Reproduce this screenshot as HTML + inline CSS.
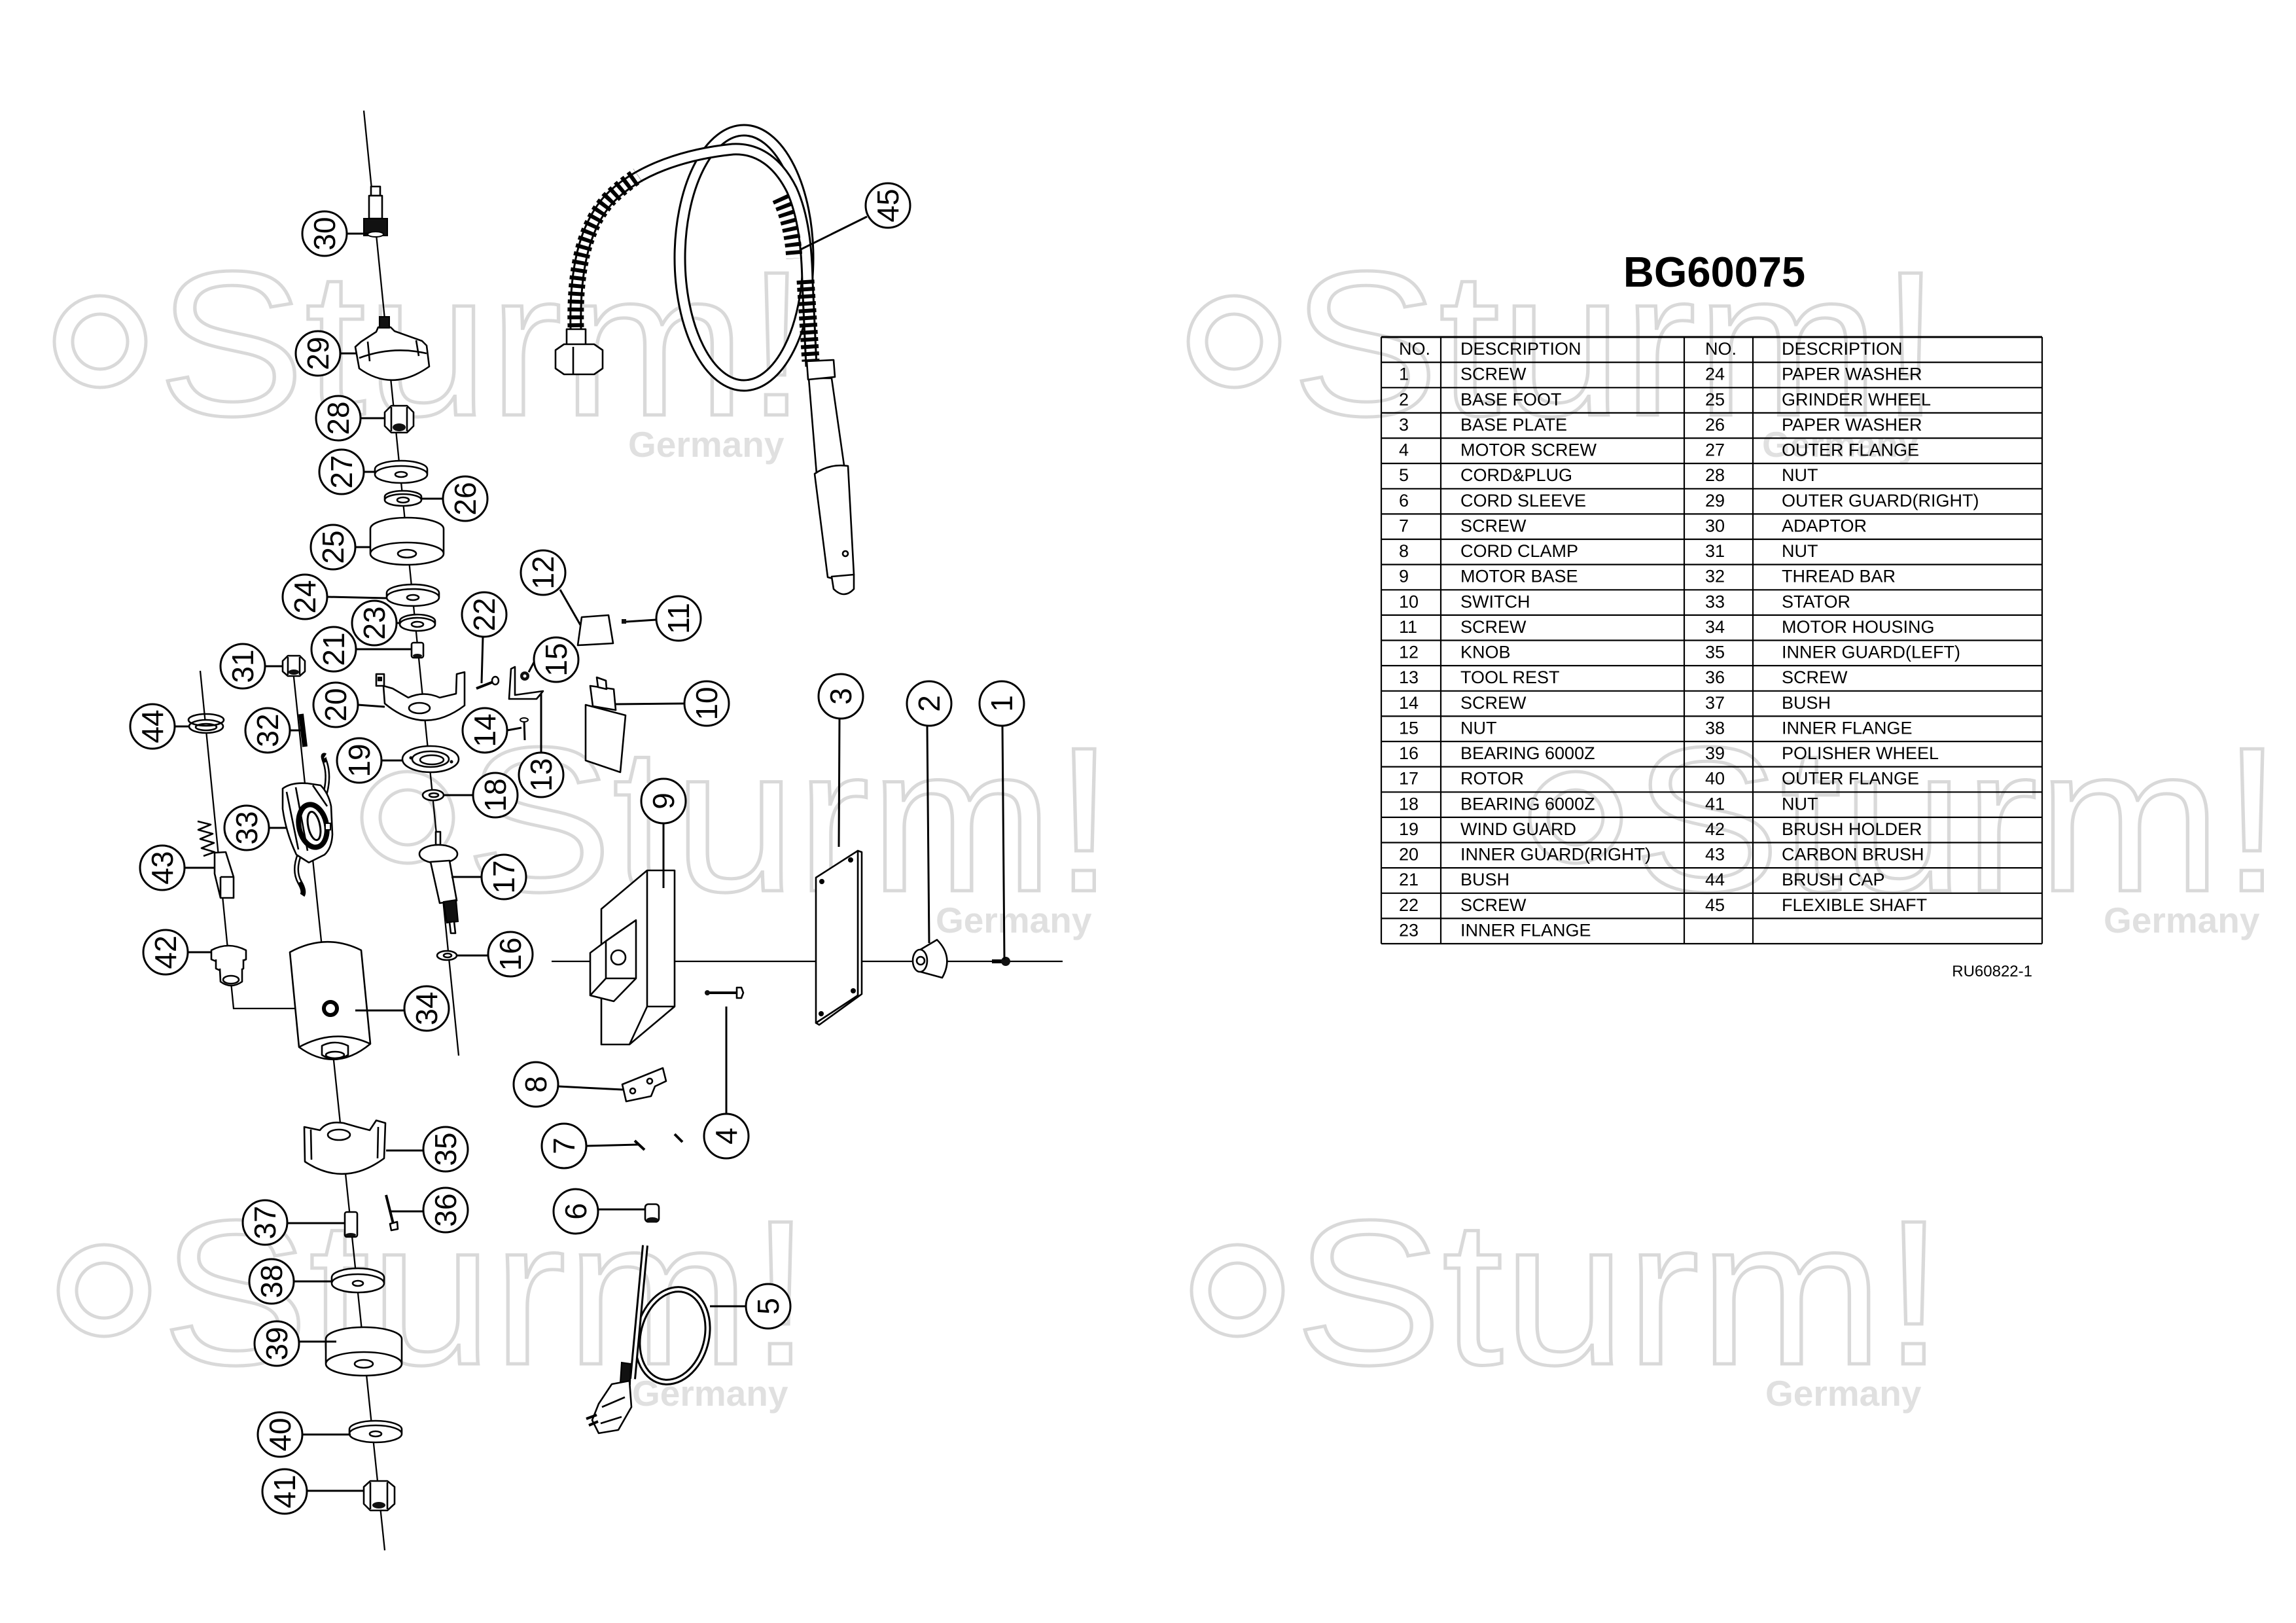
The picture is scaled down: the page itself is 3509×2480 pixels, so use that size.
<!DOCTYPE html>
<html><head><meta charset="utf-8"><style>
html,body{margin:0;padding:0;background:#fff;}
body{width:3509px;height:2480px;overflow:hidden;position:relative;}
svg{position:absolute;left:0;top:0;}
.wm{fill:none;stroke:#d9d9d9;stroke-width:5;}
.wt{font-family:"Liberation Sans",Arial,sans-serif;font-size:315px;fill:none;stroke:#d9d9d9;stroke-width:5;}
.wg{font-family:"Liberation Sans",Arial,sans-serif;font-size:55px;font-weight:bold;fill:#e0e0e0;}
.p{fill:#fff;stroke:#000;stroke-width:2.6;stroke-linejoin:round;}
.n{fill:none;stroke:#000;stroke-width:2.6;stroke-linejoin:round;}
.d{fill:#111;stroke:#000;stroke-width:2;}
.l{fill:none;stroke:#000;stroke-width:3;}
.ax{fill:none;stroke:#000;stroke-width:2.3;}
.c circle{fill:#fff;stroke:#000;stroke-width:3;}
.c text{font-family:"Liberation Sans",Arial,sans-serif;font-size:46px;text-anchor:middle;fill:#000;}
.t{font-family:"Liberation Sans",Arial,sans-serif;font-size:27px;fill:#000;}
.tl{stroke:#000;stroke-width:2.2;}
</style></head><body>
<svg width="3509" height="2480" viewBox="0 0 3509 2480" xmlns="http://www.w3.org/2000/svg">

<!-- watermarks -->
<g transform="translate(0,0)">
<circle class="wm" cx="153" cy="522" r="70"/><circle class="wm" cx="153" cy="522" r="42"/>
<text class="wt" transform="translate(241,634) scale(1.07,1)">Sturm!</text>
<text class="wg" x="960" y="698">Germany</text></g>
<g transform="translate(1733,0)">
<circle class="wm" cx="153" cy="522" r="70"/><circle class="wm" cx="153" cy="522" r="42"/>
<text class="wt" transform="translate(241,634) scale(1.07,1)">Sturm!</text>
<text class="wg" x="960" y="698">Germany</text></g>
<g transform="translate(470,727)">
<circle class="wm" cx="153" cy="522" r="70"/><circle class="wm" cx="153" cy="522" r="42"/>
<text class="wt" transform="translate(241,634) scale(1.07,1)">Sturm!</text>
<text class="wg" x="960" y="698">Germany</text></g>
<g transform="translate(2255,727)">
<circle class="wm" cx="153" cy="522" r="70"/><circle class="wm" cx="153" cy="522" r="42"/>
<text class="wt" transform="translate(241,634) scale(1.07,1)">Sturm!</text>
<text class="wg" x="960" y="698">Germany</text></g>
<g transform="translate(6,1450)">
<circle class="wm" cx="153" cy="522" r="70"/><circle class="wm" cx="153" cy="522" r="42"/>
<text class="wt" transform="translate(241,634) scale(1.07,1)">Sturm!</text>
<text class="wg" x="960" y="698">Germany</text></g>
<g transform="translate(1738,1450)">
<circle class="wm" cx="153" cy="522" r="70"/><circle class="wm" cx="153" cy="522" r="42"/>
<text class="wt" transform="translate(241,634) scale(1.07,1)">Sturm!</text>
<text class="wg" x="960" y="698">Germany</text></g>

<!-- ===== flexible shaft 45 ===== -->
<ellipse cx="1137" cy="394" rx="98" ry="195" fill="none" stroke="#000" stroke-width="19"/>
<ellipse cx="1137" cy="394" rx="98" ry="195" fill="none" stroke="#fff" stroke-width="13"/>
<path d="M880 503 C878 420 890 350 930 305 C975 258 1050 235 1120 228 C1160 226 1190 250 1210 290 C1228 330 1233 380 1234 430 L1240 560" fill="none" stroke="#000" stroke-width="19"/>
<path d="M880 503 C878 420 890 350 930 305 C975 258 1050 235 1120 228 C1160 226 1190 250 1210 290 C1228 330 1233 380 1234 430 L1240 560" fill="none" stroke="#fff" stroke-width="13"/>
<path d="M880 500 C878 420 890 350 930 305 C948 287 962 277 975 268" fill="none" stroke="#000" stroke-width="25" stroke-dasharray="6 6"/>
<path d="M1192 302 C1205 330 1212 360 1214 395" fill="none" stroke="#000" stroke-width="25" stroke-dasharray="6 6"/>
<path d="M1231 428 L1239 552" fill="none" stroke="#000" stroke-width="27" stroke-dasharray="6 5"/>
<path class="p" d="M1236 578 L1271 578 L1291 718 L1248 724 Z"/>
<path class="p" d="M1233 552 L1274 550 L1276 576 L1235 580 Z"/>
<path class="p" d="M1245 724 Q1268 708 1296 712 L1305 878 Q1285 888 1265 882 Z"/>
<circle class="n" cx="1292" cy="846" r="4"/>
<path class="p" d="M1271 881 L1305 878 L1305 900 Q1290 916 1274 900 Z"/>
<rect class="p" x="866" y="503" width="29" height="24"/>
<path class="p" d="M849 535 L862 526 L908 526 L921 535 L921 563 L908 572 L862 572 L849 563 Z"/>
<path class="n" d="M876 530 L876 572"/>
<path class="l" d="M1222 382 L1325 331"/>

<!-- ===== axis lines ===== -->
<path class="ax" d="M556 169 L701 1613"/>
<path class="ax" d="M448 1025 L588 2369"/>
<path class="ax" d="M306 1025 L357 1541 L494 1541"/>
<path class="ax" d="M843 1469 L1624 1469"/>

<!-- ===== parts on upper axis ===== -->
<rect class="p" x="567" y="285" width="14" height="14"/>
<rect class="p" x="564" y="299" width="20" height="35"/>
<rect class="d" x="556" y="334" width="36" height="26"/>
<ellipse cx="574" cy="358" rx="12" ry="4" fill="#fff" stroke="#000" stroke-width="2"/>
<path class="p" d="M578 500 L597 500 L603 506 L645 521 L652 528 L656 560 Q600 600 549 563 L543 530 L552 522 L575 507 Z"/>
<rect class="d" x="580" y="484" width="15" height="17"/>
<path class="n" d="M549 547 Q600 528 652 540 M562 522 L565 552 M636 520 L640 544"/>
<path class="p" d="M588 630 L598 620 L622 620 L632 630 L632 651 L622 661 L598 661 L588 651 Z"/>
<path class="n" d="M598 622 L598 659 M622 622 L622 659"/>
<ellipse cx="610" cy="653" rx="10" ry="6" fill="#111"/>
<path class="p" d="M573 717 A40 13 0 0 1 653 717 L653 725 A40 13 0 0 1 573 725 Z M573 725 A40 13 0 0 1 653 725"/>
<ellipse class="n" cx="613" cy="725" rx="9" ry="4"/>
<path class="p" d="M588 759 A28 9 0 0 1 644 759 L644 764 A28 9 0 0 1 588 764 Z M588 764 A28 9 0 0 1 644 764"/>
<ellipse class="n" cx="616" cy="764" rx="9" ry="4" stroke-width="3.5"/>
<path class="p" d="M566 808 A56 17 0 0 1 678 808 L678 846 A56 17 0 0 1 566 846 Z M566 846 A56 17 0 0 1 678 846"/>
<ellipse class="n" cx="622" cy="846" rx="14" ry="6"/>
<path class="p" d="M591 906 A40 13 0 0 1 671 906 L671 913 A40 13 0 0 1 591 913 Z M591 913 A40 13 0 0 1 671 913"/>
<ellipse class="n" cx="631" cy="913" rx="9" ry="4"/>
<path class="p" d="M611 949 A27 10 0 0 1 665 949 L665 954 A27 10 0 0 1 611 954 Z M611 954 A27 10 0 0 1 665 954"/>
<ellipse class="n" cx="638" cy="954" rx="9" ry="4" stroke-width="3.5"/>
<rect class="p" x="629" y="982" width="18" height="23" rx="3"/>
<ellipse cx="638" cy="1002" rx="7" ry="3" fill="#111"/>
<path class="p" d="M586 1048 L588 1075 Q648 1125 710 1078 L710 1027 L698 1030 L697 1060 L672 1066 Q648 1055 624 1066 L600 1052 Z"/>
<ellipse class="n" cx="641" cy="1082" rx="16" ry="8"/>
<rect class="p" x="575" y="1030" width="12" height="18"/>
<rect class="d" x="578" y="1035" width="5" height="5"/>
<ellipse class="p" cx="658" cy="1160" rx="43" ry="20"/>
<ellipse class="n" cx="658" cy="1160" rx="28" ry="12"/>
<ellipse class="n" cx="660" cy="1161" rx="18" ry="7" stroke-width="4.5"/>
<circle cx="628" cy="1158" r="2.5" fill="#000"/><circle cx="690" cy="1164" r="2.5" fill="#000"/>
<ellipse class="p" cx="662" cy="1215" rx="16" ry="8"/>
<ellipse class="n" cx="663" cy="1215" rx="7" ry="3" stroke-width="3.5"/>
<rect class="p" x="666" y="1271" width="7" height="20"/>
<ellipse class="p" cx="670" cy="1305" rx="29" ry="14"/>
<path class="p" d="M658 1317 L687 1315 L698 1376 L672 1380 Z"/>
<path class="d" d="M678 1378 L697 1375 L700 1408 L683 1410 Z"/>
<path class="p" d="M687 1409 L694 1408 L696 1426 L689 1426 Z"/>
<ellipse class="p" cx="683" cy="1460" rx="15" ry="7"/>
<ellipse class="n" cx="684" cy="1460" rx="6" ry="3" stroke-width="3.5"/>

<!-- ===== parts on motor axis ===== -->
<path class="p" d="M432 1010 L440 1002 L458 1002 L466 1010 L466 1026 L458 1033 L440 1033 L432 1026 Z"/>
<path class="n" d="M440 1004 L440 1031 M458 1004 L458 1031"/>
<ellipse cx="449" cy="1027" rx="8" ry="4" fill="#111"/>
<path d="M460 1091 L466 1141" stroke="#000" stroke-width="8"/>
<!-- 33 stator -->
<path d="M494 1222 Q505 1190 497 1165 Q492 1152 497 1155" fill="none" stroke="#000" stroke-width="8"/>
<path d="M494 1222 Q505 1190 497 1165" fill="none" stroke="#fff" stroke-width="3"/>
<path d="M458 1305 Q448 1330 458 1348 Q466 1362 462 1368" fill="none" stroke="#000" stroke-width="8"/>
<path d="M458 1305 Q448 1330 458 1348" fill="none" stroke="#fff" stroke-width="3"/>
<path class="p" d="M432 1205 Q445 1195 470 1197 L490 1200 Q502 1212 506 1232 L508 1275 Q507 1296 496 1306 L472 1318 L453 1306 Q437 1272 432 1236 Z"/>
<path class="n" d="M438 1210 L456 1298 M452 1203 L470 1300 M478 1200 L500 1232" stroke-width="3"/>
<ellipse cx="478" cy="1262" rx="21" ry="33" transform="rotate(-12 478 1262)" fill="none" stroke="#000" stroke-width="8"/>
<ellipse cx="480" cy="1262" rx="9" ry="22" transform="rotate(-12 480 1262)" fill="none" stroke="#000" stroke-width="3"/>
<rect x="497" y="1258" width="8" height="10" fill="#fff" stroke="#000" stroke-width="2"/>
<!-- 34 motor housing -->
<path class="p" d="M443 1455 Q498 1425 552 1452 L566 1595 Q512 1640 457 1600 Z"/>
<path class="n" d="M457 1600 Q512 1570 566 1595"/>
<path class="p" d="M492 1598 L492 1612 Q512 1625 532 1612 L532 1598 Q512 1588 492 1598 Z"/>
<ellipse class="n" cx="512" cy="1612" rx="14" ry="5" stroke-width="3"/>
<circle cx="505" cy="1541" r="10" fill="#fff" stroke="#000" stroke-width="6"/>
<!-- 35 -->
<path class="p" d="M465 1722 L489 1727 Q500 1712 525 1716 Q545 1722 565 1727 L575 1712 L589 1716 L587 1770 Q526 1815 466 1775 Z"/>
<ellipse class="n" cx="518" cy="1734" rx="17" ry="8"/>
<path class="n" d="M475 1726 L476 1772 M578 1722 L577 1770"/>
<!-- 36 -->
<path d="M590 1826 L601 1870" stroke="#000" stroke-width="4"/>
<path class="p" d="M596 1870 L607 1867 L608 1878 L598 1880 Z"/>
<!-- 37 -->
<rect class="p" x="527" y="1852" width="19" height="38" rx="3"/>
<ellipse cx="536" cy="1887" rx="8" ry="3" fill="#111"/>
<!-- 38 -->
<path class="p" d="M507 1952 A40 14 0 0 1 587 1952 L587 1961 A40 14 0 0 1 507 1961 Z M507 1961 A40 14 0 0 1 587 1961"/>
<ellipse class="n" cx="547" cy="1961" rx="8" ry="4"/>
<!-- 39 -->
<path class="p" d="M498 2046 A58 18 0 0 1 614 2046 L614 2084 A58 18 0 0 1 498 2084 Z M498 2084 A58 18 0 0 1 614 2084"/>
<ellipse class="n" cx="556" cy="2084" rx="14" ry="6"/>
<!-- 40 -->
<path class="p" d="M534 2184 A40 13 0 0 1 614 2184 L614 2191 A40 13 0 0 1 534 2191 Z M534 2191 A40 13 0 0 1 614 2191"/>
<ellipse class="n" cx="574" cy="2191" rx="9" ry="4"/>
<!-- 41 -->
<path class="p" d="M556 2272 L566 2263 L592 2263 L603 2272 L603 2298 L592 2308 L566 2308 L556 2298 Z"/>
<path class="n" d="M566 2265 L566 2306 M592 2265 L592 2306"/>
<ellipse cx="579" cy="2300" rx="10" ry="5" fill="#111"/>

<!-- ===== brush side ===== -->
<ellipse class="p" cx="315" cy="1110" rx="26" ry="10" stroke-width="4"/>
<ellipse class="n" cx="315" cy="1100" rx="27" ry="9" stroke-width="5"/>
<ellipse class="n" cx="315" cy="1111" rx="16" ry="5" stroke-width="4"/>
<polyline class="n" stroke-width="5" points="302,1255 322,1260 303,1268 325,1274 306,1282 327,1288 308,1296 328,1302 311,1308"/>
<path class="p" d="M328 1303 L345 1302 L357 1340 L357 1372 L337 1372 L328 1335 Z"/>
<path class="n" d="M337 1340 L357 1340 M337 1340 L337 1372"/>
<path class="p" d="M323 1452 Q349 1438 376 1452 L376 1466 Q349 1478 323 1466 Z"/>
<path class="p" d="M330 1466 L330 1480 Q353 1492 372 1480 L372 1466"/>
<path class="p" d="M336 1480 L337 1500 Q353 1512 370 1500 L370 1480"/>
<ellipse class="n" cx="353" cy="1497" rx="12" ry="6" stroke-width="4"/>

<!-- ===== right side small parts ===== -->
<path d="M728 1052 L756 1041" stroke="#000" stroke-width="4"/>
<ellipse cx="757" cy="1040" rx="5" ry="6" fill="#fff" stroke="#000" stroke-width="2.5"/>
<path class="p" d="M889 943 L930 940 L937 983 L883 986 Z"/>
<rect x="950" y="946" width="7" height="7" fill="#111"/>
<circle cx="802" cy="1033" r="7" fill="#111"/><circle cx="802" cy="1033" r="2.5" fill="#fff"/>
<path class="p" d="M781 1022 L787 1019 L787 1062 L830 1056 L820 1068 L778 1068 Z"/>
<path d="M801 1100 L802 1131" stroke="#000" stroke-width="3"/>
<ellipse cx="801" cy="1100" rx="6" ry="3" fill="#fff" stroke="#000" stroke-width="2"/>
<path class="p" d="M895 1077 L956 1093 L948 1180 L895 1162 Z"/>
<path class="p" d="M902 1048 L938 1053 L941 1085 L906 1079 Z"/>
<path class="p" d="M912 1035 L926 1040 L927 1053 L914 1050 Z"/>
<path class="p" d="M989 1330 L919 1389 L919 1596 L962 1596 L1031 1538 L1031 1330 Z"/>
<path class="n" d="M989 1330 L989 1538 L1031 1538 M989 1538 L962 1596"/>
<path class="p" d="M926 1438 L972 1406 L972 1495 L938 1530 L902 1521 L902 1456 Z"/>
<path class="n" d="M926 1438 L926 1495 L972 1495 M926 1495 L902 1521"/>
<circle class="n" cx="945" cy="1463" r="11"/>
<path class="p" d="M1311 1300 L1317 1302 L1317 1519 L1252 1566 L1247 1563 L1311 1521 Z"/>
<path class="p" d="M1247 1341 L1311 1300 L1311 1521 L1247 1563 Z"/>
<circle cx="1256" cy="1347" r="4" fill="#000"/><circle cx="1300" cy="1314" r="4" fill="#000"/>
<circle cx="1304" cy="1514" r="4" fill="#000"/><circle cx="1255" cy="1549" r="4" fill="#000"/>
<path class="p" d="M1405 1452 L1432 1436 Q1458 1462 1440 1494 L1407 1485 Z"/>
<ellipse class="p" cx="1406" cy="1468" rx="11" ry="17"/>
<circle class="n" cx="1407" cy="1468" r="6"/>
<path d="M1516 1469 L1535 1469" stroke="#000" stroke-width="6"/>
<circle cx="1537" cy="1469" r="7" fill="#111"/>
<path d="M1081 1517 L1127 1517" stroke="#000" stroke-width="4"/>
<circle cx="1081" cy="1517" r="4" fill="#111"/>
<path class="p" d="M1126 1509 L1133 1509 L1136 1517 L1133 1525 L1126 1525 Z"/>
<path class="p" d="M951 1657 L1013 1632 L1018 1652 L1001 1660 L995 1675 L957 1683 Z"/>
<circle class="n" cx="967" cy="1667" r="4"/><circle class="n" cx="993" cy="1652" r="4"/>
<path d="M970 1743 L985 1757" stroke="#000" stroke-width="4"/>
<path d="M1031 1733 L1043 1745" stroke="#000" stroke-width="4"/>
<rect class="p" x="986" y="1840" width="21" height="27" rx="5"/>
<ellipse cx="997" cy="1864" rx="9" ry="4" fill="#111"/>
<ellipse cx="1028" cy="2041" rx="52" ry="72" transform="rotate(15 1028 2041)" fill="none" stroke="#000" stroke-width="10"/>
<ellipse cx="1028" cy="2041" rx="52" ry="72" transform="rotate(15 1028 2041)" fill="none" stroke="#fff" stroke-width="4"/>
<path d="M986 1903 L967 2107" stroke="#000" stroke-width="10"/>
<path d="M986 1903 L967 2107" stroke="#fff" stroke-width="4"/>
<path class="d" d="M950 2082 L964 2084 L963 2115 L948 2113 Z"/>
<path class="p" d="M935 2115 L962 2110 L965 2150 L945 2185 L915 2190 L905 2170 L915 2145 Z"/>
<path class="n" d="M920 2150 L955 2135 M918 2175 L950 2165" stroke-width="3.5"/>
<path d="M896 2168 L912 2162 M900 2178 L914 2172" stroke="#000" stroke-width="4"/>

<!-- ===== leaders ===== -->
<path class="l" d="M530 357 L563 357 M520 540 L546 540 M551 639 L588 639 M556 721 L573 721 M677 762 L644 762 M543 836 L566 836 M500 912 L591 914 M606 952 L611 952 M544 992 L629 992 M405 1018 L432 1018 M738 973 L736 1044 M856 901 L887 955 M1003 947 L957 950 M816 1012 L808 1027 M547 1077 L588 1080 M267 1110 L290 1110 M443 1116 L461 1116 M775 1116 L797 1112 M827 1150 L827 1060 M583 1162 L615 1162 M723 1215 L678 1215 M1014 1258 L1014 1357 M411 1265 L437 1265 M282 1326 L328 1326 M736 1340 L690 1340 M287 1455 L323 1455 M746 1460 L698 1460 M618 1544 L543 1544 M853 1660 L952 1665 M647 1758 L590 1758 M896 1751 L975 1749 M1110 1702 L1110 1538 M647 1851 L597 1851 M914 1848 L986 1848 M440 1869 L527 1869 M449 1958 L507 1958 M457 2050 L514 2050 M462 2192 L536 2192 M469 2278 L556 2278 M1085 1996 L1140 1996 M1046 1075 L941 1076 M1283 1098 L1282 1294 M1417 1109 L1420 1441 M1532 1109 L1535 1466"/>

<!-- ===== callout circles ===== -->
<g class="c">
<g transform="translate(496,357)"><circle r="34"/><text transform="rotate(-90)" y="16">30</text></g>
<g transform="translate(486,540)"><circle r="34"/><text transform="rotate(-90)" y="16">29</text></g>
<g transform="translate(517,639)"><circle r="34"/><text transform="rotate(-90)" y="16">28</text></g>
<g transform="translate(522,721)"><circle r="34"/><text transform="rotate(-90)" y="16">27</text></g>
<g transform="translate(711,762)"><circle r="34"/><text transform="rotate(-90)" y="16">26</text></g>
<g transform="translate(509,836)"><circle r="34"/><text transform="rotate(-90)" y="16">25</text></g>
<g transform="translate(466,912)"><circle r="34"/><text transform="rotate(-90)" y="16">24</text></g>
<g transform="translate(572,952)"><circle r="34"/><text transform="rotate(-90)" y="16">23</text></g>
<g transform="translate(510,992)"><circle r="34"/><text transform="rotate(-90)" y="16">21</text></g>
<g transform="translate(740,939)"><circle r="34"/><text transform="rotate(-90)" y="16">22</text></g>
<g transform="translate(830,875)"><circle r="34"/><text transform="rotate(-90)" y="16">12</text></g>
<g transform="translate(1037,945)"><circle r="34"/><text transform="rotate(-90)" y="16">11</text></g>
<g transform="translate(850,1008)"><circle r="34"/><text transform="rotate(-90)" y="16">15</text></g>
<g transform="translate(371,1018)"><circle r="34"/><text transform="rotate(-90)" y="16">31</text></g>
<g transform="translate(513,1077)"><circle r="34"/><text transform="rotate(-90)" y="16">20</text></g>
<g transform="translate(233,1110)"><circle r="34"/><text transform="rotate(-90)" y="16">44</text></g>
<g transform="translate(409,1116)"><circle r="34"/><text transform="rotate(-90)" y="16">32</text></g>
<g transform="translate(741,1116)"><circle r="34"/><text transform="rotate(-90)" y="16">14</text></g>
<g transform="translate(827,1184)"><circle r="34"/><text transform="rotate(-90)" y="16">13</text></g>
<g transform="translate(549,1162)"><circle r="34"/><text transform="rotate(-90)" y="16">19</text></g>
<g transform="translate(757,1215)"><circle r="34"/><text transform="rotate(-90)" y="16">18</text></g>
<g transform="translate(1014,1224)"><circle r="34"/><text transform="rotate(-90)" y="16">9</text></g>
<g transform="translate(377,1265)"><circle r="34"/><text transform="rotate(-90)" y="16">33</text></g>
<g transform="translate(248,1326)"><circle r="34"/><text transform="rotate(-90)" y="16">43</text></g>
<g transform="translate(770,1340)"><circle r="34"/><text transform="rotate(-90)" y="16">17</text></g>
<g transform="translate(253,1455)"><circle r="34"/><text transform="rotate(-90)" y="16">42</text></g>
<g transform="translate(780,1458)"><circle r="34"/><text transform="rotate(-90)" y="16">16</text></g>
<g transform="translate(652,1541)"><circle r="34"/><text transform="rotate(-90)" y="16">34</text></g>
<g transform="translate(819,1657)"><circle r="34"/><text transform="rotate(-90)" y="16">8</text></g>
<g transform="translate(681,1756)"><circle r="34"/><text transform="rotate(-90)" y="16">35</text></g>
<g transform="translate(862,1751)"><circle r="34"/><text transform="rotate(-90)" y="16">7</text></g>
<g transform="translate(1110,1736)"><circle r="34"/><text transform="rotate(-90)" y="16">4</text></g>
<g transform="translate(681,1849)"><circle r="34"/><text transform="rotate(-90)" y="16">36</text></g>
<g transform="translate(880,1851)"><circle r="34"/><text transform="rotate(-90)" y="16">6</text></g>
<g transform="translate(405,1868)"><circle r="34"/><text transform="rotate(-90)" y="16">37</text></g>
<g transform="translate(415,1958)"><circle r="34"/><text transform="rotate(-90)" y="16">38</text></g>
<g transform="translate(423,2053)"><circle r="34"/><text transform="rotate(-90)" y="16">39</text></g>
<g transform="translate(428,2192)"><circle r="34"/><text transform="rotate(-90)" y="16">40</text></g>
<g transform="translate(435,2279)"><circle r="34"/><text transform="rotate(-90)" y="16">41</text></g>
<g transform="translate(1174,1996)"><circle r="34"/><text transform="rotate(-90)" y="16">5</text></g>
<g transform="translate(1080,1075)"><circle r="34"/><text transform="rotate(-90)" y="16">10</text></g>
<g transform="translate(1285,1064)"><circle r="34"/><text transform="rotate(-90)" y="16">3</text></g>
<g transform="translate(1420,1075)"><circle r="34"/><text transform="rotate(-90)" y="16">2</text></g>
<g transform="translate(1531,1075)"><circle r="34"/><text transform="rotate(-90)" y="16">1</text></g>
<g transform="translate(1357,314)"><circle r="34"/><text transform="rotate(-90)" y="16">45</text></g>
</g>

<!-- ===== title & table ===== -->
<text x="2620" y="438" font-family="'Liberation Sans',Arial,sans-serif" font-size="65" font-weight="bold" text-anchor="middle">BG60075</text>

<g class="tl">
<line x1="2111" y1="515" x2="3121" y2="515" stroke-width="3"/>
<line x1="2111" y1="553.6" x2="3121" y2="553.6"/>
<line x1="2111" y1="592.3" x2="3121" y2="592.3"/>
<line x1="2111" y1="630.9" x2="3121" y2="630.9"/>
<line x1="2111" y1="669.5" x2="3121" y2="669.5"/>
<line x1="2111" y1="708.1" x2="3121" y2="708.1"/>
<line x1="2111" y1="746.8" x2="3121" y2="746.8"/>
<line x1="2111" y1="785.4" x2="3121" y2="785.4"/>
<line x1="2111" y1="824.0" x2="3121" y2="824.0"/>
<line x1="2111" y1="862.6" x2="3121" y2="862.6"/>
<line x1="2111" y1="901.3" x2="3121" y2="901.3"/>
<line x1="2111" y1="939.9" x2="3121" y2="939.9"/>
<line x1="2111" y1="978.5" x2="3121" y2="978.5"/>
<line x1="2111" y1="1017.1" x2="3121" y2="1017.1"/>
<line x1="2111" y1="1055.8" x2="3121" y2="1055.8"/>
<line x1="2111" y1="1094.4" x2="3121" y2="1094.4"/>
<line x1="2111" y1="1133.0" x2="3121" y2="1133.0"/>
<line x1="2111" y1="1171.6" x2="3121" y2="1171.6"/>
<line x1="2111" y1="1210.3" x2="3121" y2="1210.3"/>
<line x1="2111" y1="1248.9" x2="3121" y2="1248.9"/>
<line x1="2111" y1="1287.5" x2="3121" y2="1287.5"/>
<line x1="2111" y1="1326.1" x2="3121" y2="1326.1"/>
<line x1="2111" y1="1364.8" x2="3121" y2="1364.8"/>
<line x1="2111" y1="1403.4" x2="3121" y2="1403.4"/>
<line x1="2111" y1="1442" x2="3121" y2="1442"/>
<line x1="2111" y1="515" x2="2111" y2="1442"/>
<line x1="2202" y1="515" x2="2202" y2="1442"/>
<line x1="2574" y1="515" x2="2574" y2="1442"/>
<line x1="2679" y1="515" x2="2679" y2="1442"/>
<line x1="3121" y1="515" x2="3121" y2="1442"/>
</g>

<g class="t">
<text x="2138" y="542">NO.</text><text x="2232" y="542">DESCRIPTION</text><text x="2606" y="542">NO.</text><text x="2723" y="542">DESCRIPTION</text>
<text x="2138" y="580.6">1</text><text x="2232" y="580.6">SCREW</text><text x="2606" y="580.6">24</text><text x="2723" y="580.6">PAPER WASHER</text>
<text x="2138" y="619.3">2</text><text x="2232" y="619.3">BASE FOOT</text><text x="2606" y="619.3">25</text><text x="2723" y="619.3">GRINDER WHEEL</text>
<text x="2138" y="657.9">3</text><text x="2232" y="657.9">BASE PLATE</text><text x="2606" y="657.9">26</text><text x="2723" y="657.9">PAPER WASHER</text>
<text x="2138" y="696.5">4</text><text x="2232" y="696.5">MOTOR SCREW</text><text x="2606" y="696.5">27</text><text x="2723" y="696.5">OUTER FLANGE</text>
<text x="2138" y="735.1">5</text><text x="2232" y="735.1">CORD&amp;PLUG</text><text x="2606" y="735.1">28</text><text x="2723" y="735.1">NUT</text>
<text x="2138" y="773.8">6</text><text x="2232" y="773.8">CORD SLEEVE</text><text x="2606" y="773.8">29</text><text x="2723" y="773.8">OUTER GUARD(RIGHT)</text>
<text x="2138" y="812.4">7</text><text x="2232" y="812.4">SCREW</text><text x="2606" y="812.4">30</text><text x="2723" y="812.4">ADAPTOR</text>
<text x="2138" y="851.0">8</text><text x="2232" y="851.0">CORD CLAMP</text><text x="2606" y="851.0">31</text><text x="2723" y="851.0">NUT</text>
<text x="2138" y="889.6">9</text><text x="2232" y="889.6">MOTOR BASE</text><text x="2606" y="889.6">32</text><text x="2723" y="889.6">THREAD BAR</text>
<text x="2138" y="928.3">10</text><text x="2232" y="928.3">SWITCH</text><text x="2606" y="928.3">33</text><text x="2723" y="928.3">STATOR</text>
<text x="2138" y="966.9">11</text><text x="2232" y="966.9">SCREW</text><text x="2606" y="966.9">34</text><text x="2723" y="966.9">MOTOR HOUSING</text>
<text x="2138" y="1005.5">12</text><text x="2232" y="1005.5">KNOB</text><text x="2606" y="1005.5">35</text><text x="2723" y="1005.5">INNER GUARD(LEFT)</text>
<text x="2138" y="1044.1">13</text><text x="2232" y="1044.1">TOOL REST</text><text x="2606" y="1044.1">36</text><text x="2723" y="1044.1">SCREW</text>
<text x="2138" y="1082.8">14</text><text x="2232" y="1082.8">SCREW</text><text x="2606" y="1082.8">37</text><text x="2723" y="1082.8">BUSH</text>
<text x="2138" y="1121.4">15</text><text x="2232" y="1121.4">NUT</text><text x="2606" y="1121.4">38</text><text x="2723" y="1121.4">INNER FLANGE</text>
<text x="2138" y="1160.0">16</text><text x="2232" y="1160.0">BEARING 6000Z</text><text x="2606" y="1160.0">39</text><text x="2723" y="1160.0">POLISHER WHEEL</text>
<text x="2138" y="1198.6">17</text><text x="2232" y="1198.6">ROTOR</text><text x="2606" y="1198.6">40</text><text x="2723" y="1198.6">OUTER FLANGE</text>
<text x="2138" y="1237.3">18</text><text x="2232" y="1237.3">BEARING 6000Z</text><text x="2606" y="1237.3">41</text><text x="2723" y="1237.3">NUT</text>
<text x="2138" y="1275.9">19</text><text x="2232" y="1275.9">WIND GUARD</text><text x="2606" y="1275.9">42</text><text x="2723" y="1275.9">BRUSH HOLDER</text>
<text x="2138" y="1314.5">20</text><text x="2232" y="1314.5">INNER GUARD(RIGHT)</text><text x="2606" y="1314.5">43</text><text x="2723" y="1314.5">CARBON BRUSH</text>
<text x="2138" y="1353.1">21</text><text x="2232" y="1353.1">BUSH</text><text x="2606" y="1353.1">44</text><text x="2723" y="1353.1">BRUSH CAP</text>
<text x="2138" y="1391.8">22</text><text x="2232" y="1391.8">SCREW</text><text x="2606" y="1391.8">45</text><text x="2723" y="1391.8">FLEXIBLE SHAFT</text>
<text x="2138" y="1430.4">23</text><text x="2232" y="1430.4">INNER FLANGE</text>
</g>
<text x="3106" y="1492" font-family="'Liberation Sans',Arial,sans-serif" font-size="24" text-anchor="end">RU60822-1</text>
</svg>
</body></html>
